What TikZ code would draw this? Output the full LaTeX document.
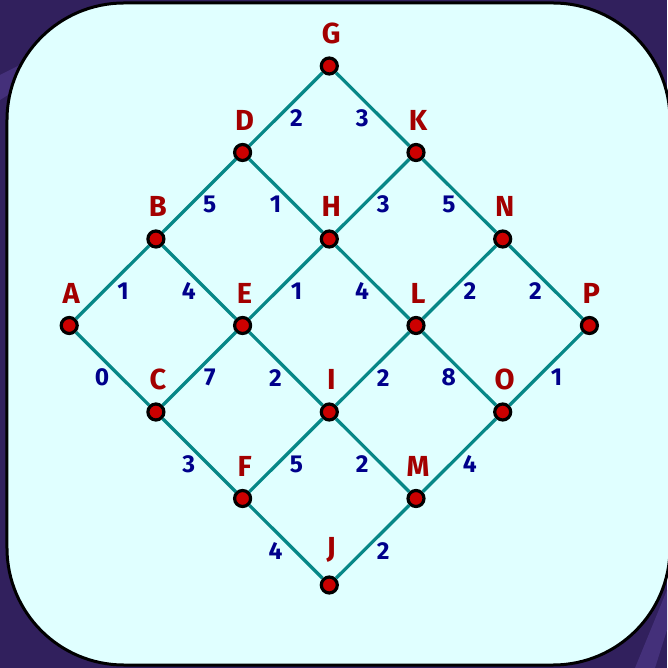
\documentclass[tikz,border=0pt]{standalone}
\usepackage{fontspec}
\setsansfont{Fira Sans}
\usepackage{tikz}
\usetikzlibrary{positioning}

\definecolor{slide}{HTML}{31205D}
\definecolor{streak}{HTML}{44307A}
\definecolor{board}{HTML}{E0FFFF}
\definecolor{edgeteal}{HTML}{078787}
\definecolor{dotred}{HTML}{CC0000}
\definecolor{tagred}{HTML}{A30000}
\definecolor{wtblue}{HTML}{00008B}

\begin{document}
\begin{tikzpicture}[
  x=86.7pt, y=86.5pt,
  every node/.style={font=\sffamily\bfseries},
  vertex/.style={circle,draw=black,line width=3.2pt,fill=dotred,minimum size=16pt,inner sep=0pt},
  tag/.style={text=tagred,inner sep=0pt,xshift=2pt,font=\sffamily\bfseries\fontsize{29}{29}\selectfont},
  link/.style={draw=edgeteal,line width=3.3pt},
  wt/.style={text=wtblue,inner sep=0pt,font=\sffamily\bfseries\fontsize{24.5}{24.5}\selectfont},
  label distance=12.5pt
]
  % background and board
  \useasboundingbox (-329.3pt,-342.5pt) rectangle (337.7pt,325.5pt);
  \fill[slide] (-329.3pt,-342.5pt) rectangle (337.7pt,325.5pt);
  \fill[streak] (-329.3pt,250.5pt) -- (-289.3pt,270.5pt) -- (-289.3pt,250.5pt) -- (-329.3pt,225.5pt) -- cycle;
  \fill[streak] (305.7pt,-342.5pt) -- (337.7pt,-264.5pt) -- (337.7pt,-304.5pt) -- (325.7pt,-342.5pt) -- cycle;
  \draw[line width=3pt,fill=board,rounded corners=117pt] (-322.3pt,-339.5pt) rectangle (340.7pt,322.5pt);

  % vertices
  \node[vertex,label={[tag]above:A}] (A) at (-3, 0) {};
  \node[vertex,label={[tag]above:B}] (B) at (-2, 1) {};
  \node[vertex,label={[tag]above:C}] (C) at (-2,-1) {};
  \node[vertex,label={[tag]above:D}] (D) at (-1, 2) {};
  \node[vertex,label={[tag]above:E}] (E) at (-1, 0) {};
  \node[vertex,label={[tag]above:F}] (F) at (-1,-2) {};
  \node[vertex,label={[tag]above:G}] (G) at ( 0, 3) {};
  \node[vertex,label={[tag]above:H}] (H) at ( 0, 1) {};
  \node[vertex,label={[tag]above:I}] (I) at ( 0,-1) {};
  \node[vertex,label={[tag]above:J}] (J) at ( 0,-3) {};
  \node[vertex,label={[tag]above:K}] (K) at ( 1, 2) {};
  \node[vertex,label={[tag]above:L}] (L) at ( 1, 0) {};
  \node[vertex,label={[tag]above:M}] (M) at ( 1,-2) {};
  \node[vertex,label={[tag]above:N}] (N) at ( 2, 1) {};
  \node[vertex,label={[tag]above:O}] (O) at ( 2,-1) {};
  \node[vertex,label={[tag]above:P}] (P) at ( 3, 0) {};

  % rising edges: weight below right
  \foreach \a/\b/\w in {A/B/1,B/D/5,D/G/2,C/E/7,E/H/1,H/K/3,F/I/5,I/L/2,L/N/2,J/M/2,M/O/4,O/P/1}
    \draw[link] (\a) -- node[wt,xshift=10.5pt,yshift=-8.8pt] {\w} (\b);
  % falling edges: weight below left
  \foreach \a/\b/\w in {A/C/0,C/F/3,F/J/4,B/E/4,E/I/2,I/M/2,D/H/1,H/L/4,L/O/8,G/K/3,K/N/5,N/P/2}
    \draw[link] (\a) -- node[wt,xshift=-10.5pt,yshift=-8.8pt] {\w} (\b);
\end{tikzpicture}
\end{document}
